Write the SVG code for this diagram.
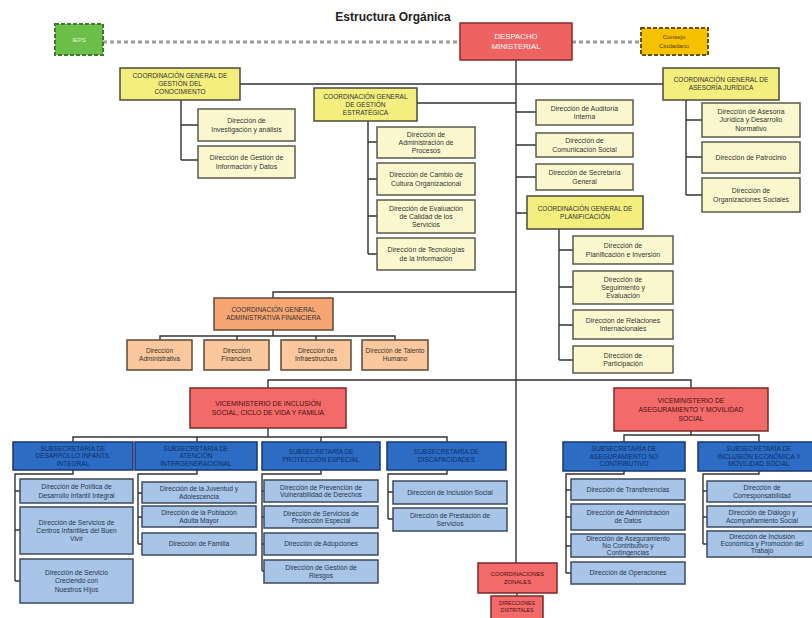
<svg xmlns="http://www.w3.org/2000/svg" width="812" height="618" viewBox="0 0 812 618">
<style>
text{font-family:"Liberation Sans",Arial,sans-serif;text-anchor:middle}
.t{font-size:6.9px;fill:#333}
.tc{font-size:6.5px;fill:#333}
.cg{fill:#f4ee7e;stroke:#4a4a3a;stroke-width:1.5}
.dy{fill:#fbf8cf;stroke:#5a5a4a;stroke-width:1.5}
.og{fill:#f6a672;stroke:#5a4a3a;stroke-width:1.5}
.oc{fill:#fbc79c;stroke:#5a4a3a;stroke-width:1.5}
.rv{fill:#f26a6a;stroke:#7a2a2a;stroke-width:1.5}
.bs{fill:#2c6cc4;stroke:#1a3570;stroke-width:1.5}
.bc{fill:#a8c4e6;stroke:#3c4a60;stroke-width:1.5}
.tb{font-size:6.5px;fill:#0e2c66}
.tl{font-size:6.7px;fill:#27364f}
.tr{font-size:6.8px;fill:#4a1010}
.ln{fill:none;stroke:#333;stroke-width:1.4}
.ds{fill:none;stroke:#9a9a9a;stroke-width:3;stroke-dasharray:4 3}
</style>
<rect width="812" height="618" fill="#ffffff"/>
<text x="393" y="21" style="font-size:12px;font-weight:bold;fill:#222">Estructura Orgánica</text>

<g id="connectors">
<path class="ds" d="M103,42 H460 M572,42 H641"/>
<path class="ln" d="M516,60 V563 M240,84 H663"/>
<path class="ln" d="M181,100 V160 M181,125 H198 M181,160 H198"/>
<path class="ln" d="M417,103 H516 M368,121 V254 M368,142 H377 M368,179 H377 M368,216 H377 M368,254 H377"/>
<path class="ln" d="M516,112 H536 M516,145 H536 M516,177 H536 M516,213 H527"/>
<path class="ln" d="M686,100 V195 M686,120 H702 M686,157 H702 M686,195 H702"/>
<path class="ln" d="M559,229 V360 M559,250 H573 M559,287 H573 M559,325 H573 M559,360 H573"/>
<path class="ln" d="M273,298 V292 H516 M273,330 V336 M160,340 V336 H395 V340 M237,336 V340 M316,336 V340"/>
<path class="ln" d="M268,388 V380 H691 V388"/>
<path class="ln" d="M268,428 V437 M73,442 V437 H447 V442 M197,437 V442 M321,437 V442"/>
<path class="ln" d="M73,470 V474 H15 V581 M15,491 H20 M15,530 H20 M15,581 H20"/>
<path class="ln" d="M197,470 V474 H138 V544 M138,493 H142 M138,517 H142 M138,544 H142"/>
<path class="ln" d="M321,470 V474 H262 V571 M262,491 H264 M262,517 H264 M262,544 H264 M262,571 H264"/>
<path class="ln" d="M447,470 V474 H388 V519 M388,492 H393 M388,519 H393"/>
<path class="ln" d="M691,431 V435 M624,442 V435 H759 V442"/>
<path class="ln" d="M624,471 V474 H566 V573 M566,490 H571 M566,517 H571 M566,546 H571 M566,573 H571"/>
<path class="ln" d="M759,471 V474 H703 V544 M703,491 H707 M703,517 H707 M703,544 H707"/>
<path class="ln" d="M517,593 V596"/>
</g>

<g id="ieps"><rect x="55" y="24" width="48" height="31" fill="#6cc04a" stroke="#3d7a28" stroke-width="2" stroke-dasharray="4 2"/><text x="79" y="42" style="font-size:6px;fill:#e4f5d6">IEPS</text></g>
<g id="despacho"><rect x="460" y="23" width="112" height="37" fill="#ef6262" stroke="#8a2a2a" stroke-width="1.5"/><text x="516" y="39" style="font-size:7.8px;fill:#fff">DESPACHO</text><text x="516" y="49" style="font-size:7.8px;fill:#fff">MINISTERIAL</text></g>
<g id="consejo"><rect x="641" y="28" width="67" height="27" fill="#f6c200" stroke="#6a5000" stroke-width="2" stroke-dasharray="4 2"/><text x="674" y="39" style="font-size:6.2px;fill:#5a3a00">Consejo</text><text x="674" y="48" style="font-size:6.2px;fill:#5a3a00">Ciudadano</text></g>

<g id="cg-conocimiento"><rect class="cg" x="120" y="68" width="120" height="32"/><text class="tc" x="180"><tspan x="180" y="78">COORDINACIÓN GENERAL DE</tspan><tspan x="180" y="86">GESTIÓN DEL</tspan><tspan x="180" y="94">CONOCIMIENTO</tspan></text></g>
<g id="d-investigacion"><rect class="dy" x="198" y="109" width="97" height="32"/><text class="t"><tspan x="246.5" y="123.3">Dirección de</tspan><tspan x="246.5" y="131.8">Investigación y análisis</tspan></text></g>
<g id="d-gestion-info"><rect class="dy" x="198" y="146" width="97" height="32"/><text class="t"><tspan x="246.5" y="160.3">Dirección de Gestión de</tspan><tspan x="246.5" y="168.8">Información y Datos</tspan></text></g>

<g id="cg-estrategica"><rect class="cg" x="314" y="88" width="103" height="33"/><text class="tc"><tspan x="365.5" y="98.8">COORDINACIÓN GENERAL</tspan><tspan x="365.5" y="106.8">DE GESTIÓN</tspan><tspan x="365.5" y="114.8">ESTRATÉGICA</tspan></text></g>
<g id="d-procesos"><rect class="dy" x="377" y="127" width="98" height="31"/><text class="t"><tspan x="426" y="136.5">Dirección de</tspan><tspan x="426" y="144.8">Administración de</tspan><tspan x="426" y="153.1">Procesos</tspan></text></g>
<g id="d-cultura"><rect class="dy" x="377" y="163" width="98" height="32"/><text class="t"><tspan x="426" y="177.3">Dirección de Cambio de</tspan><tspan x="426" y="185.8">Cultura Organizacional</tspan></text></g>
<g id="d-calidad"><rect class="dy" x="377" y="200" width="98" height="33"/><text class="t"><tspan x="426" y="210.5">Dirección de Evaluación</tspan><tspan x="426" y="218.8">de Calidad de los</tspan><tspan x="426" y="227.1">Servicios</tspan></text></g>
<g id="d-tecnologias"><rect class="dy" x="377" y="238" width="98" height="32"/><text class="t"><tspan x="426" y="252.3">Dirección de Tecnologías</tspan><tspan x="426" y="260.8">de la Información</tspan></text></g>

<g id="d-auditoria"><rect class="dy" x="536" y="100" width="97" height="25"/><text class="t"><tspan x="584.5" y="110.8">Dirección de Auditoría</tspan><tspan x="584.5" y="119">Interna</tspan></text></g>
<g id="d-comunicacion"><rect class="dy" x="536" y="133" width="97" height="24"/><text class="t"><tspan x="584.5" y="143.3">Dirección de</tspan><tspan x="584.5" y="151.5">Comunicación Social</tspan></text></g>
<g id="d-secretaria"><rect class="dy" x="536" y="164" width="97" height="26"/><text class="t"><tspan x="584.5" y="175.3">Dirección de Secretaría</tspan><tspan x="584.5" y="183.5">General</tspan></text></g>
<g id="cg-planificacion"><rect class="cg" x="527" y="196" width="116" height="33"/><text class="tc"><tspan x="585" y="210.8">COORDINACIÓN GENERAL DE</tspan><tspan x="585" y="218.8">PLANIFICACIÓN</tspan></text></g>
<g id="d-planificacion"><rect class="dy" x="573" y="236" width="100" height="28"/><text class="t"><tspan x="623" y="248.3">Dirección de</tspan><tspan x="623" y="256.5">Planificación e Inversión</tspan></text></g>
<g id="d-seguimiento"><rect class="dy" x="573" y="271" width="100" height="33"/><text class="t"><tspan x="623" y="281.5">Dirección de</tspan><tspan x="623" y="289.8">Seguimiento y</tspan><tspan x="623" y="298.1">Evaluación</tspan></text></g>
<g id="d-relaciones"><rect class="dy" x="573" y="310" width="100" height="29"/><text class="t"><tspan x="623" y="322.8">Dirección de Relaciones</tspan><tspan x="623" y="331">Internacionales</tspan></text></g>
<g id="d-participacion"><rect class="dy" x="573" y="346" width="100" height="27"/><text class="t"><tspan x="623" y="357.8">Dirección de</tspan><tspan x="623" y="366">Participación</tspan></text></g>

<g id="cg-asesoria"><rect class="cg" x="663" y="68" width="116" height="32"/><text class="tc"><tspan x="721" y="82.3">COORDINACIÓN GENERAL DE</tspan><tspan x="721" y="90.3">ASESORÍA JURÍDICA</tspan></text></g>
<g id="d-asesoria"><rect class="dy" x="702" y="103" width="98" height="34"/><text class="t"><tspan x="751" y="114">Dirección de Asesoría</tspan><tspan x="751" y="122.3">Jurídica y Desarrollo</tspan><tspan x="751" y="130.6">Normativo</tspan></text></g>
<g id="d-patrocinio"><rect class="dy" x="702" y="142" width="98" height="31"/><text class="t" x="751" y="160">Dirección de Patrocinio</text></g>
<g id="d-organizaciones"><rect class="dy" x="702" y="178" width="98" height="34"/><text class="t"><tspan x="751" y="193.3">Dirección de</tspan><tspan x="751" y="201.5">Organizaciones Sociales</tspan></text></g>

<g id="cg-financiera"><rect class="og" x="214" y="298" width="119" height="32"/><text class="tc"><tspan x="273.5" y="312.3">COORDINACIÓN GENERAL</tspan><tspan x="273.5" y="320.3">ADMINISTRATIVA FINANCIERA</tspan></text></g>
<g id="d-administrativa"><rect class="oc" x="127" y="340" width="65" height="30"/><text class="tc"><tspan x="159.5" y="353.3">Dirección</tspan><tspan x="159.5" y="361.3">Administrativa</tspan></text></g>
<g id="d-financiera"><rect class="oc" x="204" y="340" width="65" height="30"/><text class="tc"><tspan x="236.5" y="353.3">Dirección</tspan><tspan x="236.5" y="361.3">Financiera</tspan></text></g>
<g id="d-infraestructura"><rect class="oc" x="281" y="340" width="70" height="30"/><text class="tc"><tspan x="316" y="353.3">Dirección de</tspan><tspan x="316" y="361.3">Infraestructura</tspan></text></g>
<g id="d-talento"><rect class="oc" x="362" y="340" width="66" height="30"/><text class="tc"><tspan x="395" y="353.3">Dirección de Talento</tspan><tspan x="395" y="361.3">Humano</tspan></text></g>

<g id="vm-inclusion"><rect class="rv" x="190" y="388" width="156" height="40"/><text class="tr"><tspan x="268" y="406">VICEMINISTERIO DE INCLUSIÓN</tspan><tspan x="268" y="415">SOCIAL, CICLO DE VIDA Y FAMILIA</tspan></text></g>
<g id="vm-aseguramiento"><rect class="rv" x="614" y="388" width="154" height="43"/><text class="tr"><tspan x="691" y="403">VICEMINISTERIO DE</tspan><tspan x="691" y="412">ASEGURAMIENTO Y MOVILIDAD</tspan><tspan x="691" y="421">SOCIAL</tspan></text></g>

<g id="ss-infantil"><rect class="bs" x="13" y="442" width="120" height="28"/><text class="tb"><tspan x="73" y="450.5">SUBSECRETARÍA DE</tspan><tspan x="73" y="458">DESARROLLO INFANTIL</tspan><tspan x="73" y="465.5">INTEGRAL</tspan></text></g>
<g id="ss-intergeneracional"><rect class="bs" x="135" y="442" width="122" height="28"/><text class="tb"><tspan x="196" y="450.5">SUBSECRETARÍA DE</tspan><tspan x="196" y="458">ATENCIÓN</tspan><tspan x="196" y="465.5">INTERGENERACIONAL</tspan></text></g>
<g id="ss-proteccion"><rect class="bs" x="262" y="442" width="118" height="28"/><text class="tb"><tspan x="321" y="454.3">SUBSECRETARÍA DE</tspan><tspan x="321" y="461.8">PROTECCIÓN ESPECIAL</tspan></text></g>
<g id="ss-discapacidades"><rect class="bs" x="387" y="442" width="119" height="28"/><text class="tb"><tspan x="446.5" y="454.3">SUBSECRETARÍA DE</tspan><tspan x="446.5" y="461.8">DISCAPACIDADES</tspan></text></g>
<g id="ss-aseguramiento"><rect class="bs" x="563" y="442" width="122" height="29"/><text class="tb"><tspan x="624" y="451">SUBSECRETARÍA DE</tspan><tspan x="624" y="458.5">ASEGURAMIENTO NO</tspan><tspan x="624" y="466">CONTRIBUTIVO</tspan></text></g>
<g id="ss-economica"><rect class="bs" x="698" y="442" width="122" height="29"/><text class="tb"><tspan x="759" y="451">SUBSECRETARÍA DE</tspan><tspan x="759" y="458.5">INCLUSIÓN ECONÓMICA Y</tspan><tspan x="759" y="466">MOVILIDAD SOCIAL</tspan></text></g>

<g id="d-politica"><rect class="bc" x="20" y="479" width="113" height="24"/><text class="tl"><tspan x="76.5" y="489.3">Dirección de Política de</tspan><tspan x="76.5" y="497.5">Desarrollo Infantil Integral</tspan></text></g>
<g id="d-cibv"><rect class="bc" x="20" y="507" width="113" height="47"/><text class="tl"><tspan x="76.5" y="524.5">Dirección de Servicios de</tspan><tspan x="76.5" y="532.8">Centros Infantiles del Buen</tspan><tspan x="76.5" y="541.1">Vivir</tspan></text></g>
<g id="d-creciendo"><rect class="bc" x="20" y="559" width="113" height="44"/><text class="tl"><tspan x="76.5" y="575">Dirección de Servicio</tspan><tspan x="76.5" y="583.3">Creciendo con</tspan><tspan x="76.5" y="591.6">Nuestros  Hijos</tspan></text></g>

<g id="d-juventud"><rect class="bc" x="142" y="482" width="114" height="21"/><text class="tl"><tspan x="199" y="491">Dirección de la Juventud y</tspan><tspan x="199" y="498.7">Adolescencia</tspan></text></g>
<g id="d-adulta"><rect class="bc" x="142" y="506" width="114" height="21"/><text class="tl"><tspan x="199" y="515">Dirección de la Población</tspan><tspan x="199" y="522.7">Adulta Mayor</tspan></text></g>
<g id="d-familia"><rect class="bc" x="142" y="533" width="114" height="22"/><text class="tl" x="199" y="546.4">Dirección de Familia</text></g>

<g id="d-prevencion"><rect class="bc" x="264" y="480" width="114" height="22"/><text class="tl"><tspan x="321" y="489.5">Dirección de Prevención de</tspan><tspan x="321" y="497.2">Vulnerabilidad de Derechos</tspan></text></g>
<g id="d-proteccion"><rect class="bc" x="264" y="506" width="114" height="22"/><text class="tl"><tspan x="321" y="515.5">Dirección de Servicios de</tspan><tspan x="321" y="523.2">Protección Especial</tspan></text></g>
<g id="d-adopciones"><rect class="bc" x="264" y="533" width="114" height="22"/><text class="tl" x="321" y="546.4">Dirección de Adopciones</text></g>
<g id="d-riesgos"><rect class="bc" x="264" y="560" width="114" height="23"/><text class="tl"><tspan x="321" y="570">Dirección de Gestión de</tspan><tspan x="321" y="577.7">Riesgos</tspan></text></g>

<g id="d-inclusion-social"><rect class="bc" x="393" y="481" width="114" height="23"/><text class="tl" x="450" y="494.8">Dirección de Inclusión Social</text></g>
<g id="d-prestacion"><rect class="bc" x="393" y="508" width="114" height="23"/><text class="tl"><tspan x="450" y="518">Dirección de Prestación de</tspan><tspan x="450" y="525.7">Servicios</tspan></text></g>

<g id="d-transferencias"><rect class="bc" x="571" y="479" width="114" height="21"/><text class="tl" x="628" y="491.8">Dirección de Transferencias</text></g>
<g id="d-datos"><rect class="bc" x="571" y="504" width="114" height="26"/><text class="tl"><tspan x="628" y="515.3">Dirección de Administración</tspan><tspan x="628" y="523">de Datos</tspan></text></g>
<g id="d-contingencias"><rect class="bc" x="571" y="534" width="114" height="23"/><text class="tl"><tspan x="628" y="540.5">Dirección de Aseguramiento</tspan><tspan x="628" y="547.5">No Contributivo y</tspan><tspan x="628" y="554.5">Contingencias</tspan></text></g>
<g id="d-operaciones"><rect class="bc" x="571" y="562" width="114" height="22"/><text class="tl" x="628" y="575.4">Dirección de Operaciones</text></g>

<g id="d-corresponsabilidad"><rect class="bc" x="707" y="481" width="113" height="21"/><text class="tl"><tspan x="762" y="490">Dirección de</tspan><tspan x="762" y="497.7">Corresponsabilidad</tspan></text></g>
<g id="d-dialogo"><rect class="bc" x="707" y="506" width="113" height="21"/><text class="tl"><tspan x="762" y="515">Dirección de Diálogo y</tspan><tspan x="762" y="522.7">Acompañamiento Social</tspan></text></g>
<g id="d-promocion"><rect class="bc" x="707" y="531" width="113" height="26"/><text class="tl"><tspan x="762" y="539">Dirección de Inclusión</tspan><tspan x="762" y="546">Económica y Promoción del</tspan><tspan x="762" y="553">Trabajo</tspan></text></g>

<g id="coord-zonales"><rect class="rv" x="478" y="563" width="79" height="30"/><text class="tr" style="font-size:5.8px"><tspan x="517.5" y="576">COORDINACIONES</tspan><tspan x="517.5" y="584">ZONALES</tspan></text></g>
<g id="dir-distritales"><rect class="rv" x="491" y="596" width="52" height="25"/><text class="tr" style="font-size:5.2px"><tspan x="517" y="605">DIRECCIONES</tspan><tspan x="517" y="612">DISTRITALES</tspan></text></g>
</svg>
